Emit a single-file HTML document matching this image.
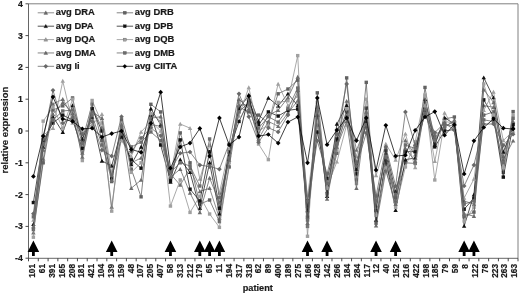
<!DOCTYPE html>
<html lang="en"><head><meta charset="utf-8"><title>relative expression by patient</title>
<style>html,body{margin:0;padding:0;background:#fff}body{width:520px;height:295px;overflow:hidden}</style></head>
<body>
<svg width="520" height="295" viewBox="0 0 520 295" style="display:block;filter:blur(0.35px)">
<rect width="520" height="295" fill="#fff"/>
<path d="M28.5 3.8H518.0V258.3" fill="none" stroke="#808080" stroke-width="1"/>
<g><polyline points="33.39,232.76 43.19,158.98 52.97,103.97 62.77,99.20 72.55,116.05 82.34,152.94 92.13,107.15 101.92,127.82 111.71,207.00 121.50,134.18 131.29,162.80 141.08,158.03 150.88,124.64 160.66,126.23 170.45,173.93 180.24,185.06 190.03,168.21 199.82,191.42 209.61,188.24 219.40,218.13 229.19,154.85 238.98,104.92 248.77,104.92 258.56,138.95 268.36,121.46 278.14,126.23 287.94,112.87 297.72,100.79 307.51,205.73 317.30,124.96 327.09,191.42 336.88,140.54 346.67,101.11 356.46,150.08 366.25,126.23 376.04,205.73 385.83,153.26 395.62,200.96 405.41,140.54 415.20,154.85 424.99,100.79 434.78,135.13 444.57,127.82 454.36,119.87 464.15,200.96 473.94,204.14 483.73,105.56 493.52,107.15 503.31,156.44 513.11,121.46" fill="none" stroke="#6a6a6a" stroke-width="0.75" stroke-linejoin="round"/>
<path d="M33.39 230.56L35.59 234.52L31.19 234.52Z" fill="#6e6e6e"/>
<path d="M43.19 156.78L45.39 160.74L40.98 160.74Z" fill="#6e6e6e"/>
<path d="M52.97 101.77L55.17 105.73L50.77 105.73Z" fill="#6e6e6e"/>
<path d="M62.77 97.00L64.97 100.96L60.56 100.96Z" fill="#6e6e6e"/>
<path d="M72.55 113.85L74.75 117.81L70.35 117.81Z" fill="#6e6e6e"/>
<path d="M82.34 150.74L84.55 154.70L80.14 154.70Z" fill="#6e6e6e"/>
<path d="M92.13 104.95L94.33 108.91L89.93 108.91Z" fill="#6e6e6e"/>
<path d="M101.92 125.62L104.12 129.58L99.72 129.58Z" fill="#6e6e6e"/>
<path d="M111.71 204.80L113.91 208.76L109.51 208.76Z" fill="#6e6e6e"/>
<path d="M121.50 131.98L123.70 135.94L119.30 135.94Z" fill="#6e6e6e"/>
<path d="M131.29 160.60L133.49 164.56L129.09 164.56Z" fill="#6e6e6e"/>
<path d="M141.08 155.83L143.28 159.79L138.88 159.79Z" fill="#6e6e6e"/>
<path d="M150.88 122.44L153.07 126.40L148.68 126.40Z" fill="#6e6e6e"/>
<path d="M160.66 124.03L162.86 127.99L158.47 127.99Z" fill="#6e6e6e"/>
<path d="M170.45 171.73L172.65 175.69L168.25 175.69Z" fill="#6e6e6e"/>
<path d="M180.24 182.86L182.44 186.82L178.04 186.82Z" fill="#6e6e6e"/>
<path d="M190.03 166.01L192.23 169.97L187.84 169.97Z" fill="#6e6e6e"/>
<path d="M199.82 189.22L202.02 193.18L197.62 193.18Z" fill="#6e6e6e"/>
<path d="M209.61 186.04L211.81 190.00L207.41 190.00Z" fill="#6e6e6e"/>
<path d="M219.40 215.93L221.60 219.89L217.20 219.89Z" fill="#6e6e6e"/>
<path d="M229.19 152.65L231.39 156.61L227.00 156.61Z" fill="#6e6e6e"/>
<path d="M238.98 102.72L241.18 106.68L236.78 106.68Z" fill="#6e6e6e"/>
<path d="M248.77 102.72L250.97 106.68L246.57 106.68Z" fill="#6e6e6e"/>
<path d="M258.56 136.75L260.76 140.71L256.36 140.71Z" fill="#6e6e6e"/>
<path d="M268.36 119.26L270.56 123.22L266.16 123.22Z" fill="#6e6e6e"/>
<path d="M278.14 124.03L280.34 127.99L275.94 127.99Z" fill="#6e6e6e"/>
<path d="M287.94 110.67L290.13 114.63L285.74 114.63Z" fill="#6e6e6e"/>
<path d="M297.72 98.59L299.92 102.55L295.52 102.55Z" fill="#6e6e6e"/>
<path d="M307.51 203.53L309.71 207.49L305.31 207.49Z" fill="#6e6e6e"/>
<path d="M317.30 122.76L319.50 126.72L315.10 126.72Z" fill="#6e6e6e"/>
<path d="M327.09 189.22L329.29 193.18L324.89 193.18Z" fill="#6e6e6e"/>
<path d="M336.88 138.34L339.08 142.30L334.69 142.30Z" fill="#6e6e6e"/>
<path d="M346.67 98.91L348.87 102.87L344.47 102.87Z" fill="#6e6e6e"/>
<path d="M356.46 147.88L358.66 151.84L354.26 151.84Z" fill="#6e6e6e"/>
<path d="M366.25 124.03L368.45 127.99L364.06 127.99Z" fill="#6e6e6e"/>
<path d="M376.04 203.53L378.24 207.49L373.84 207.49Z" fill="#6e6e6e"/>
<path d="M385.83 151.06L388.03 155.02L383.63 155.02Z" fill="#6e6e6e"/>
<path d="M395.62 198.76L397.82 202.72L393.42 202.72Z" fill="#6e6e6e"/>
<path d="M405.41 138.34L407.61 142.30L403.21 142.30Z" fill="#6e6e6e"/>
<path d="M415.20 152.65L417.40 156.61L413.00 156.61Z" fill="#6e6e6e"/>
<path d="M424.99 98.59L427.19 102.55L422.79 102.55Z" fill="#6e6e6e"/>
<path d="M434.78 132.93L436.98 136.89L432.58 136.89Z" fill="#6e6e6e"/>
<path d="M444.57 125.62L446.77 129.58L442.38 129.58Z" fill="#6e6e6e"/>
<path d="M454.36 117.67L456.56 121.63L452.16 121.63Z" fill="#6e6e6e"/>
<path d="M464.15 198.76L466.35 202.72L461.95 202.72Z" fill="#6e6e6e"/>
<path d="M473.94 201.94L476.14 205.90L471.74 205.90Z" fill="#6e6e6e"/>
<path d="M483.73 103.36L485.93 107.32L481.53 107.32Z" fill="#6e6e6e"/>
<path d="M493.52 104.95L495.72 108.91L491.32 108.91Z" fill="#6e6e6e"/>
<path d="M503.31 154.24L505.51 158.20L501.11 158.20Z" fill="#6e6e6e"/>
<path d="M513.11 119.26L515.31 123.22L510.91 123.22Z" fill="#6e6e6e"/>
</g>
<g><polyline points="33.39,229.58 43.19,162.80 52.97,110.01 62.77,105.88 72.55,97.93 82.34,140.54 92.13,103.97 101.92,140.54 111.71,181.56 121.50,119.87 131.29,169.16 141.08,196.83 150.88,104.29 160.66,111.92 170.45,178.70 180.24,132.91 190.03,162.80 199.82,204.14 209.61,200.01 219.40,221.63 229.19,166.93 238.98,107.15 248.77,111.92 258.56,115.10 268.36,123.05 278.14,93.79 287.94,89.02 297.72,80.12 307.51,226.40 317.30,92.84 327.09,193.96 336.88,153.26 346.67,77.89 356.46,179.97 366.25,82.35 376.04,223.22 385.83,162.80 395.62,197.78 405.41,162.80 415.20,163.44 424.99,87.43 434.78,143.72 444.57,118.92 454.36,117.01 464.15,216.86 473.94,212.09 483.73,115.10 493.52,111.92 503.31,172.34 513.11,111.60" fill="none" stroke="#5a5a5a" stroke-width="0.75" stroke-linejoin="round"/>
<rect x="31.69" y="227.88" width="3.40" height="3.40" fill="#626262"/>
<rect x="41.48" y="161.10" width="3.40" height="3.40" fill="#626262"/>
<rect x="51.27" y="108.31" width="3.40" height="3.40" fill="#626262"/>
<rect x="61.06" y="104.18" width="3.40" height="3.40" fill="#626262"/>
<rect x="70.85" y="96.23" width="3.40" height="3.40" fill="#626262"/>
<rect x="80.64" y="138.84" width="3.40" height="3.40" fill="#626262"/>
<rect x="90.43" y="102.27" width="3.40" height="3.40" fill="#626262"/>
<rect x="100.22" y="138.84" width="3.40" height="3.40" fill="#626262"/>
<rect x="110.01" y="179.86" width="3.40" height="3.40" fill="#626262"/>
<rect x="119.80" y="118.17" width="3.40" height="3.40" fill="#626262"/>
<rect x="129.59" y="167.46" width="3.40" height="3.40" fill="#626262"/>
<rect x="139.38" y="195.13" width="3.40" height="3.40" fill="#626262"/>
<rect x="149.18" y="102.59" width="3.40" height="3.40" fill="#626262"/>
<rect x="158.97" y="110.22" width="3.40" height="3.40" fill="#626262"/>
<rect x="168.75" y="177.00" width="3.40" height="3.40" fill="#626262"/>
<rect x="178.54" y="131.21" width="3.40" height="3.40" fill="#626262"/>
<rect x="188.34" y="161.10" width="3.40" height="3.40" fill="#626262"/>
<rect x="198.12" y="202.44" width="3.40" height="3.40" fill="#626262"/>
<rect x="207.91" y="198.31" width="3.40" height="3.40" fill="#626262"/>
<rect x="217.70" y="219.93" width="3.40" height="3.40" fill="#626262"/>
<rect x="227.50" y="165.23" width="3.40" height="3.40" fill="#626262"/>
<rect x="237.28" y="105.45" width="3.40" height="3.40" fill="#626262"/>
<rect x="247.07" y="110.22" width="3.40" height="3.40" fill="#626262"/>
<rect x="256.86" y="113.40" width="3.40" height="3.40" fill="#626262"/>
<rect x="266.66" y="121.35" width="3.40" height="3.40" fill="#626262"/>
<rect x="276.44" y="92.09" width="3.40" height="3.40" fill="#626262"/>
<rect x="286.24" y="87.32" width="3.40" height="3.40" fill="#626262"/>
<rect x="296.02" y="78.42" width="3.40" height="3.40" fill="#626262"/>
<rect x="305.81" y="224.70" width="3.40" height="3.40" fill="#626262"/>
<rect x="315.60" y="91.14" width="3.40" height="3.40" fill="#626262"/>
<rect x="325.39" y="192.26" width="3.40" height="3.40" fill="#626262"/>
<rect x="335.19" y="151.56" width="3.40" height="3.40" fill="#626262"/>
<rect x="344.97" y="76.19" width="3.40" height="3.40" fill="#626262"/>
<rect x="354.76" y="178.27" width="3.40" height="3.40" fill="#626262"/>
<rect x="364.56" y="80.65" width="3.40" height="3.40" fill="#626262"/>
<rect x="374.34" y="221.52" width="3.40" height="3.40" fill="#626262"/>
<rect x="384.13" y="161.10" width="3.40" height="3.40" fill="#626262"/>
<rect x="393.92" y="196.08" width="3.40" height="3.40" fill="#626262"/>
<rect x="403.71" y="161.10" width="3.40" height="3.40" fill="#626262"/>
<rect x="413.50" y="161.74" width="3.40" height="3.40" fill="#626262"/>
<rect x="423.29" y="85.73" width="3.40" height="3.40" fill="#626262"/>
<rect x="433.08" y="142.02" width="3.40" height="3.40" fill="#626262"/>
<rect x="442.88" y="117.22" width="3.40" height="3.40" fill="#626262"/>
<rect x="452.66" y="115.31" width="3.40" height="3.40" fill="#626262"/>
<rect x="462.45" y="215.16" width="3.40" height="3.40" fill="#626262"/>
<rect x="472.24" y="210.39" width="3.40" height="3.40" fill="#626262"/>
<rect x="482.03" y="113.40" width="3.40" height="3.40" fill="#626262"/>
<rect x="491.82" y="110.22" width="3.40" height="3.40" fill="#626262"/>
<rect x="501.61" y="170.64" width="3.40" height="3.40" fill="#626262"/>
<rect x="511.41" y="109.90" width="3.40" height="3.40" fill="#626262"/>
</g>
<g><polyline points="33.39,224.17 43.19,146.90 52.97,116.69 62.77,132.27 72.55,105.56 82.34,138.95 92.13,117.01 101.92,160.89 111.71,165.98 121.50,130.05 131.29,164.39 141.08,146.90 150.88,108.74 160.66,124.64 170.45,181.88 180.24,159.62 190.03,172.34 199.82,208.27 209.61,162.80 219.40,213.68 229.19,151.67 238.98,108.74 248.77,95.07 258.56,121.14 268.36,97.93 278.14,105.88 287.94,93.79 297.72,105.56 307.51,210.50 317.30,115.10 327.09,196.19 336.88,124.00 346.67,105.56 356.46,169.16 366.25,121.46 376.04,220.04 385.83,159.62 395.62,210.18 405.41,159.62 415.20,158.03 424.99,99.20 434.78,145.31 444.57,117.64 454.36,124.00 464.15,226.08 473.94,194.60 483.73,77.58 493.52,97.61 503.31,151.99 513.11,127.18" fill="none" stroke="#1a1a1a" stroke-width="0.75" stroke-linejoin="round"/>
<path d="M33.39 221.97L35.59 225.93L31.19 225.93Z" fill="#111111"/>
<path d="M43.19 144.70L45.39 148.66L40.98 148.66Z" fill="#111111"/>
<path d="M52.97 114.49L55.17 118.45L50.77 118.45Z" fill="#111111"/>
<path d="M62.77 130.07L64.97 134.03L60.56 134.03Z" fill="#111111"/>
<path d="M72.55 103.36L74.75 107.32L70.35 107.32Z" fill="#111111"/>
<path d="M82.34 136.75L84.55 140.71L80.14 140.71Z" fill="#111111"/>
<path d="M92.13 114.81L94.33 118.77L89.93 118.77Z" fill="#111111"/>
<path d="M101.92 158.69L104.12 162.65L99.72 162.65Z" fill="#111111"/>
<path d="M111.71 163.78L113.91 167.74L109.51 167.74Z" fill="#111111"/>
<path d="M121.50 127.85L123.70 131.81L119.30 131.81Z" fill="#111111"/>
<path d="M131.29 162.19L133.49 166.15L129.09 166.15Z" fill="#111111"/>
<path d="M141.08 144.70L143.28 148.66L138.88 148.66Z" fill="#111111"/>
<path d="M150.88 106.54L153.07 110.50L148.68 110.50Z" fill="#111111"/>
<path d="M160.66 122.44L162.86 126.40L158.47 126.40Z" fill="#111111"/>
<path d="M170.45 179.68L172.65 183.64L168.25 183.64Z" fill="#111111"/>
<path d="M180.24 157.42L182.44 161.38L178.04 161.38Z" fill="#111111"/>
<path d="M190.03 170.14L192.23 174.10L187.84 174.10Z" fill="#111111"/>
<path d="M199.82 206.07L202.02 210.03L197.62 210.03Z" fill="#111111"/>
<path d="M209.61 160.60L211.81 164.56L207.41 164.56Z" fill="#111111"/>
<path d="M219.40 211.48L221.60 215.44L217.20 215.44Z" fill="#111111"/>
<path d="M229.19 149.47L231.39 153.43L227.00 153.43Z" fill="#111111"/>
<path d="M238.98 106.54L241.18 110.50L236.78 110.50Z" fill="#111111"/>
<path d="M248.77 92.87L250.97 96.83L246.57 96.83Z" fill="#111111"/>
<path d="M258.56 118.94L260.76 122.90L256.36 122.90Z" fill="#111111"/>
<path d="M268.36 95.73L270.56 99.69L266.16 99.69Z" fill="#111111"/>
<path d="M278.14 103.68L280.34 107.64L275.94 107.64Z" fill="#111111"/>
<path d="M287.94 91.59L290.13 95.55L285.74 95.55Z" fill="#111111"/>
<path d="M297.72 103.36L299.92 107.32L295.52 107.32Z" fill="#111111"/>
<path d="M307.51 208.30L309.71 212.26L305.31 212.26Z" fill="#111111"/>
<path d="M317.30 112.90L319.50 116.86L315.10 116.86Z" fill="#111111"/>
<path d="M327.09 193.99L329.29 197.95L324.89 197.95Z" fill="#111111"/>
<path d="M336.88 121.80L339.08 125.76L334.69 125.76Z" fill="#111111"/>
<path d="M346.67 103.36L348.87 107.32L344.47 107.32Z" fill="#111111"/>
<path d="M356.46 166.96L358.66 170.92L354.26 170.92Z" fill="#111111"/>
<path d="M366.25 119.26L368.45 123.22L364.06 123.22Z" fill="#111111"/>
<path d="M376.04 217.84L378.24 221.80L373.84 221.80Z" fill="#111111"/>
<path d="M385.83 157.42L388.03 161.38L383.63 161.38Z" fill="#111111"/>
<path d="M395.62 207.98L397.82 211.94L393.42 211.94Z" fill="#111111"/>
<path d="M405.41 157.42L407.61 161.38L403.21 161.38Z" fill="#111111"/>
<path d="M415.20 155.83L417.40 159.79L413.00 159.79Z" fill="#111111"/>
<path d="M424.99 97.00L427.19 100.96L422.79 100.96Z" fill="#111111"/>
<path d="M434.78 143.11L436.98 147.07L432.58 147.07Z" fill="#111111"/>
<path d="M444.57 115.44L446.77 119.40L442.38 119.40Z" fill="#111111"/>
<path d="M454.36 121.80L456.56 125.76L452.16 125.76Z" fill="#111111"/>
<path d="M464.15 223.88L466.35 227.84L461.95 227.84Z" fill="#111111"/>
<path d="M473.94 192.40L476.14 196.36L471.74 196.36Z" fill="#111111"/>
<path d="M483.73 75.38L485.93 79.34L481.53 79.34Z" fill="#111111"/>
<path d="M493.52 95.41L495.72 99.37L491.32 99.37Z" fill="#111111"/>
<path d="M503.31 149.79L505.51 153.75L501.11 153.75Z" fill="#111111"/>
<path d="M513.11 124.98L515.31 128.94L510.91 128.94Z" fill="#111111"/>
</g>
<g><polyline points="33.39,202.55 43.19,140.54 52.97,123.05 62.77,115.10 72.55,119.87 82.34,148.49 92.13,108.74 101.92,131.00 111.71,178.06 121.50,137.36 131.29,159.62 141.08,168.21 150.88,115.10 160.66,144.99 170.45,180.93 180.24,139.90 190.03,189.19 199.82,200.96 209.61,151.67 219.40,208.27 229.19,150.08 238.98,121.46 248.77,100.79 258.56,124.64 268.36,111.92 278.14,116.05 287.94,110.33 297.72,109.06 307.51,217.18 317.30,131.95 327.09,178.70 336.88,138.95 346.67,111.92 356.46,173.93 366.25,108.10 376.04,210.50 385.83,150.08 395.62,192.06 405.41,151.67 415.20,151.67 424.99,110.33 434.78,146.90 444.57,131.00 454.36,129.41 464.15,209.23 473.94,198.10 483.73,99.84 493.52,116.69 503.31,177.11 513.11,124.64" fill="none" stroke="#1a1a1a" stroke-width="0.75" stroke-linejoin="round"/>
<rect x="31.69" y="200.85" width="3.40" height="3.40" fill="#111111"/>
<rect x="41.48" y="138.84" width="3.40" height="3.40" fill="#111111"/>
<rect x="51.27" y="121.35" width="3.40" height="3.40" fill="#111111"/>
<rect x="61.06" y="113.40" width="3.40" height="3.40" fill="#111111"/>
<rect x="70.85" y="118.17" width="3.40" height="3.40" fill="#111111"/>
<rect x="80.64" y="146.79" width="3.40" height="3.40" fill="#111111"/>
<rect x="90.43" y="107.04" width="3.40" height="3.40" fill="#111111"/>
<rect x="100.22" y="129.30" width="3.40" height="3.40" fill="#111111"/>
<rect x="110.01" y="176.36" width="3.40" height="3.40" fill="#111111"/>
<rect x="119.80" y="135.66" width="3.40" height="3.40" fill="#111111"/>
<rect x="129.59" y="157.92" width="3.40" height="3.40" fill="#111111"/>
<rect x="139.38" y="166.51" width="3.40" height="3.40" fill="#111111"/>
<rect x="149.18" y="113.40" width="3.40" height="3.40" fill="#111111"/>
<rect x="158.97" y="143.29" width="3.40" height="3.40" fill="#111111"/>
<rect x="168.75" y="179.23" width="3.40" height="3.40" fill="#111111"/>
<rect x="178.54" y="138.20" width="3.40" height="3.40" fill="#111111"/>
<rect x="188.34" y="187.49" width="3.40" height="3.40" fill="#111111"/>
<rect x="198.12" y="199.26" width="3.40" height="3.40" fill="#111111"/>
<rect x="207.91" y="149.97" width="3.40" height="3.40" fill="#111111"/>
<rect x="217.70" y="206.57" width="3.40" height="3.40" fill="#111111"/>
<rect x="227.50" y="148.38" width="3.40" height="3.40" fill="#111111"/>
<rect x="237.28" y="119.76" width="3.40" height="3.40" fill="#111111"/>
<rect x="247.07" y="99.09" width="3.40" height="3.40" fill="#111111"/>
<rect x="256.86" y="122.94" width="3.40" height="3.40" fill="#111111"/>
<rect x="266.66" y="110.22" width="3.40" height="3.40" fill="#111111"/>
<rect x="276.44" y="114.35" width="3.40" height="3.40" fill="#111111"/>
<rect x="286.24" y="108.63" width="3.40" height="3.40" fill="#111111"/>
<rect x="296.02" y="107.36" width="3.40" height="3.40" fill="#111111"/>
<rect x="305.81" y="215.48" width="3.40" height="3.40" fill="#111111"/>
<rect x="315.60" y="130.25" width="3.40" height="3.40" fill="#111111"/>
<rect x="325.39" y="177.00" width="3.40" height="3.40" fill="#111111"/>
<rect x="335.19" y="137.25" width="3.40" height="3.40" fill="#111111"/>
<rect x="344.97" y="110.22" width="3.40" height="3.40" fill="#111111"/>
<rect x="354.76" y="172.23" width="3.40" height="3.40" fill="#111111"/>
<rect x="364.56" y="106.40" width="3.40" height="3.40" fill="#111111"/>
<rect x="374.34" y="208.80" width="3.40" height="3.40" fill="#111111"/>
<rect x="384.13" y="148.38" width="3.40" height="3.40" fill="#111111"/>
<rect x="393.92" y="190.36" width="3.40" height="3.40" fill="#111111"/>
<rect x="403.71" y="149.97" width="3.40" height="3.40" fill="#111111"/>
<rect x="413.50" y="149.97" width="3.40" height="3.40" fill="#111111"/>
<rect x="423.29" y="108.63" width="3.40" height="3.40" fill="#111111"/>
<rect x="433.08" y="145.20" width="3.40" height="3.40" fill="#111111"/>
<rect x="442.88" y="129.30" width="3.40" height="3.40" fill="#111111"/>
<rect x="452.66" y="127.71" width="3.40" height="3.40" fill="#111111"/>
<rect x="462.45" y="207.53" width="3.40" height="3.40" fill="#111111"/>
<rect x="472.24" y="196.40" width="3.40" height="3.40" fill="#111111"/>
<rect x="482.03" y="98.14" width="3.40" height="3.40" fill="#111111"/>
<rect x="491.82" y="114.99" width="3.40" height="3.40" fill="#111111"/>
<rect x="501.61" y="175.41" width="3.40" height="3.40" fill="#111111"/>
<rect x="511.41" y="122.94" width="3.40" height="3.40" fill="#111111"/>
</g>
<g><polyline points="33.39,220.04 43.19,135.13 52.97,128.14 62.77,81.07 72.55,123.05 82.34,131.00 92.13,124.64 101.92,114.15 111.71,172.34 121.50,140.54 131.29,156.44 141.08,131.95 150.88,121.46 160.66,131.00 170.45,175.52 180.24,124.00 190.03,128.14 199.82,179.02 209.61,145.31 219.40,193.01 229.19,148.49 238.98,116.05 248.77,87.43 258.56,131.00 268.36,124.96 278.14,83.94 287.94,105.56 297.72,96.02 307.51,197.14 317.30,121.46 327.09,186.65 336.88,161.85 346.67,124.96 356.46,156.44 366.25,113.51 376.04,175.52 385.83,144.04 395.62,159.94 405.41,133.86 415.20,167.57 424.99,105.56 434.78,161.21 444.57,112.87 454.36,127.82 464.15,198.10 473.94,179.02 483.73,110.33 493.52,91.89 503.31,140.54 513.11,131.00" fill="none" stroke="#8c8c8c" stroke-width="0.75" stroke-linejoin="round"/>
<path d="M33.39 217.84L35.59 221.80L31.19 221.80Z" fill="#a0a0a0"/>
<path d="M43.19 132.93L45.39 136.89L40.98 136.89Z" fill="#a0a0a0"/>
<path d="M52.97 125.94L55.17 129.90L50.77 129.90Z" fill="#a0a0a0"/>
<path d="M62.77 78.87L64.97 82.83L60.56 82.83Z" fill="#a0a0a0"/>
<path d="M72.55 120.85L74.75 124.81L70.35 124.81Z" fill="#a0a0a0"/>
<path d="M82.34 128.80L84.55 132.76L80.14 132.76Z" fill="#a0a0a0"/>
<path d="M92.13 122.44L94.33 126.40L89.93 126.40Z" fill="#a0a0a0"/>
<path d="M101.92 111.95L104.12 115.91L99.72 115.91Z" fill="#a0a0a0"/>
<path d="M111.71 170.14L113.91 174.10L109.51 174.10Z" fill="#a0a0a0"/>
<path d="M121.50 138.34L123.70 142.30L119.30 142.30Z" fill="#a0a0a0"/>
<path d="M131.29 154.24L133.49 158.20L129.09 158.20Z" fill="#a0a0a0"/>
<path d="M141.08 129.75L143.28 133.71L138.88 133.71Z" fill="#a0a0a0"/>
<path d="M150.88 119.26L153.07 123.22L148.68 123.22Z" fill="#a0a0a0"/>
<path d="M160.66 128.80L162.86 132.76L158.47 132.76Z" fill="#a0a0a0"/>
<path d="M170.45 173.32L172.65 177.28L168.25 177.28Z" fill="#a0a0a0"/>
<path d="M180.24 121.80L182.44 125.76L178.04 125.76Z" fill="#a0a0a0"/>
<path d="M190.03 125.94L192.23 129.90L187.84 129.90Z" fill="#a0a0a0"/>
<path d="M199.82 176.82L202.02 180.78L197.62 180.78Z" fill="#a0a0a0"/>
<path d="M209.61 143.11L211.81 147.07L207.41 147.07Z" fill="#a0a0a0"/>
<path d="M219.40 190.81L221.60 194.77L217.20 194.77Z" fill="#a0a0a0"/>
<path d="M229.19 146.29L231.39 150.25L227.00 150.25Z" fill="#a0a0a0"/>
<path d="M238.98 113.85L241.18 117.81L236.78 117.81Z" fill="#a0a0a0"/>
<path d="M248.77 85.23L250.97 89.19L246.57 89.19Z" fill="#a0a0a0"/>
<path d="M258.56 128.80L260.76 132.76L256.36 132.76Z" fill="#a0a0a0"/>
<path d="M268.36 122.76L270.56 126.72L266.16 126.72Z" fill="#a0a0a0"/>
<path d="M278.14 81.74L280.34 85.70L275.94 85.70Z" fill="#a0a0a0"/>
<path d="M287.94 103.36L290.13 107.32L285.74 107.32Z" fill="#a0a0a0"/>
<path d="M297.72 93.82L299.92 97.78L295.52 97.78Z" fill="#a0a0a0"/>
<path d="M307.51 194.94L309.71 198.90L305.31 198.90Z" fill="#a0a0a0"/>
<path d="M317.30 119.26L319.50 123.22L315.10 123.22Z" fill="#a0a0a0"/>
<path d="M327.09 184.45L329.29 188.41L324.89 188.41Z" fill="#a0a0a0"/>
<path d="M336.88 159.65L339.08 163.61L334.69 163.61Z" fill="#a0a0a0"/>
<path d="M346.67 122.76L348.87 126.72L344.47 126.72Z" fill="#a0a0a0"/>
<path d="M356.46 154.24L358.66 158.20L354.26 158.20Z" fill="#a0a0a0"/>
<path d="M366.25 111.31L368.45 115.27L364.06 115.27Z" fill="#a0a0a0"/>
<path d="M376.04 173.32L378.24 177.28L373.84 177.28Z" fill="#a0a0a0"/>
<path d="M385.83 141.84L388.03 145.80L383.63 145.80Z" fill="#a0a0a0"/>
<path d="M395.62 157.74L397.82 161.70L393.42 161.70Z" fill="#a0a0a0"/>
<path d="M405.41 131.66L407.61 135.62L403.21 135.62Z" fill="#a0a0a0"/>
<path d="M415.20 165.37L417.40 169.33L413.00 169.33Z" fill="#a0a0a0"/>
<path d="M424.99 103.36L427.19 107.32L422.79 107.32Z" fill="#a0a0a0"/>
<path d="M434.78 159.01L436.98 162.97L432.58 162.97Z" fill="#a0a0a0"/>
<path d="M444.57 110.67L446.77 114.63L442.38 114.63Z" fill="#a0a0a0"/>
<path d="M454.36 125.62L456.56 129.58L452.16 129.58Z" fill="#a0a0a0"/>
<path d="M464.15 195.90L466.35 199.86L461.95 199.86Z" fill="#a0a0a0"/>
<path d="M473.94 176.82L476.14 180.78L471.74 180.78Z" fill="#a0a0a0"/>
<path d="M483.73 108.13L485.93 112.09L481.53 112.09Z" fill="#a0a0a0"/>
<path d="M493.52 89.69L495.72 93.65L491.32 93.65Z" fill="#a0a0a0"/>
<path d="M503.31 138.34L505.51 142.30L501.11 142.30Z" fill="#a0a0a0"/>
<path d="M513.11 128.80L515.31 132.76L510.91 132.76Z" fill="#a0a0a0"/>
</g>
<g><polyline points="33.39,237.21 43.19,121.14 52.97,107.15 62.77,128.14 72.55,99.20 82.34,160.57 92.13,100.47 101.92,123.05 111.71,211.14 121.50,123.05 131.29,172.34 141.08,162.80 150.88,113.51 160.66,121.46 170.45,206.05 180.24,179.97 190.03,212.41 199.82,196.19 209.61,214.00 219.40,227.35 229.19,162.80 238.98,102.38 248.77,99.20 258.56,144.04 268.36,159.62 278.14,102.38 287.94,100.79 297.72,55.63 307.51,236.26 317.30,102.38 327.09,188.24 336.88,150.08 346.67,108.74 356.46,183.47 366.25,99.20 376.04,215.27 385.83,168.21 395.62,207.32 405.41,166.93 415.20,141.81 424.99,95.07 434.78,179.97 444.57,121.46 454.36,123.05 464.15,220.99 473.94,207.32 483.73,83.94 493.52,115.10 503.31,167.57 513.11,115.10" fill="none" stroke="#8c8c8c" stroke-width="0.75" stroke-linejoin="round"/>
<rect x="31.69" y="235.51" width="3.40" height="3.40" fill="#a0a0a0"/>
<rect x="41.48" y="119.44" width="3.40" height="3.40" fill="#a0a0a0"/>
<rect x="51.27" y="105.45" width="3.40" height="3.40" fill="#a0a0a0"/>
<rect x="61.06" y="126.44" width="3.40" height="3.40" fill="#a0a0a0"/>
<rect x="70.85" y="97.50" width="3.40" height="3.40" fill="#a0a0a0"/>
<rect x="80.64" y="158.87" width="3.40" height="3.40" fill="#a0a0a0"/>
<rect x="90.43" y="98.77" width="3.40" height="3.40" fill="#a0a0a0"/>
<rect x="100.22" y="121.35" width="3.40" height="3.40" fill="#a0a0a0"/>
<rect x="110.01" y="209.44" width="3.40" height="3.40" fill="#a0a0a0"/>
<rect x="119.80" y="121.35" width="3.40" height="3.40" fill="#a0a0a0"/>
<rect x="129.59" y="170.64" width="3.40" height="3.40" fill="#a0a0a0"/>
<rect x="139.38" y="161.10" width="3.40" height="3.40" fill="#a0a0a0"/>
<rect x="149.18" y="111.81" width="3.40" height="3.40" fill="#a0a0a0"/>
<rect x="158.97" y="119.76" width="3.40" height="3.40" fill="#a0a0a0"/>
<rect x="168.75" y="204.35" width="3.40" height="3.40" fill="#a0a0a0"/>
<rect x="178.54" y="178.27" width="3.40" height="3.40" fill="#a0a0a0"/>
<rect x="188.34" y="210.71" width="3.40" height="3.40" fill="#a0a0a0"/>
<rect x="198.12" y="194.49" width="3.40" height="3.40" fill="#a0a0a0"/>
<rect x="207.91" y="212.30" width="3.40" height="3.40" fill="#a0a0a0"/>
<rect x="217.70" y="225.65" width="3.40" height="3.40" fill="#a0a0a0"/>
<rect x="227.50" y="161.10" width="3.40" height="3.40" fill="#a0a0a0"/>
<rect x="237.28" y="100.68" width="3.40" height="3.40" fill="#a0a0a0"/>
<rect x="247.07" y="97.50" width="3.40" height="3.40" fill="#a0a0a0"/>
<rect x="256.86" y="142.34" width="3.40" height="3.40" fill="#a0a0a0"/>
<rect x="266.66" y="157.92" width="3.40" height="3.40" fill="#a0a0a0"/>
<rect x="276.44" y="100.68" width="3.40" height="3.40" fill="#a0a0a0"/>
<rect x="286.24" y="99.09" width="3.40" height="3.40" fill="#a0a0a0"/>
<rect x="296.02" y="53.93" width="3.40" height="3.40" fill="#a0a0a0"/>
<rect x="305.81" y="234.56" width="3.40" height="3.40" fill="#a0a0a0"/>
<rect x="315.60" y="100.68" width="3.40" height="3.40" fill="#a0a0a0"/>
<rect x="325.39" y="186.54" width="3.40" height="3.40" fill="#a0a0a0"/>
<rect x="335.19" y="148.38" width="3.40" height="3.40" fill="#a0a0a0"/>
<rect x="344.97" y="107.04" width="3.40" height="3.40" fill="#a0a0a0"/>
<rect x="354.76" y="181.77" width="3.40" height="3.40" fill="#a0a0a0"/>
<rect x="364.56" y="97.50" width="3.40" height="3.40" fill="#a0a0a0"/>
<rect x="374.34" y="213.57" width="3.40" height="3.40" fill="#a0a0a0"/>
<rect x="384.13" y="166.51" width="3.40" height="3.40" fill="#a0a0a0"/>
<rect x="393.92" y="205.62" width="3.40" height="3.40" fill="#a0a0a0"/>
<rect x="403.71" y="165.23" width="3.40" height="3.40" fill="#a0a0a0"/>
<rect x="413.50" y="140.11" width="3.40" height="3.40" fill="#a0a0a0"/>
<rect x="423.29" y="93.37" width="3.40" height="3.40" fill="#a0a0a0"/>
<rect x="433.08" y="178.27" width="3.40" height="3.40" fill="#a0a0a0"/>
<rect x="442.88" y="119.76" width="3.40" height="3.40" fill="#a0a0a0"/>
<rect x="452.66" y="121.35" width="3.40" height="3.40" fill="#a0a0a0"/>
<rect x="462.45" y="219.29" width="3.40" height="3.40" fill="#a0a0a0"/>
<rect x="472.24" y="205.62" width="3.40" height="3.40" fill="#a0a0a0"/>
<rect x="482.03" y="82.24" width="3.40" height="3.40" fill="#a0a0a0"/>
<rect x="491.82" y="113.40" width="3.40" height="3.40" fill="#a0a0a0"/>
<rect x="501.61" y="165.87" width="3.40" height="3.40" fill="#a0a0a0"/>
<rect x="511.41" y="113.40" width="3.40" height="3.40" fill="#a0a0a0"/>
</g>
<g><polyline points="33.39,226.40 43.19,150.08 52.97,114.15 62.77,102.38 72.55,113.51 82.34,157.08 92.13,111.92 101.92,118.28 111.71,180.29 121.50,124.64 131.29,188.24 141.08,179.97 150.88,118.28 160.66,116.69 170.45,177.11 180.24,169.16 190.03,193.01 199.82,212.41 209.61,178.06 219.40,202.55 229.19,159.94 238.98,99.20 248.77,108.74 258.56,134.18 268.36,115.10 278.14,110.33 287.94,97.61 297.72,76.94 307.51,223.22 317.30,107.15 327.09,199.05 336.88,146.90 346.67,121.46 356.46,188.24 366.25,111.92 376.04,225.76 385.83,170.75 395.62,204.14 405.41,148.49 415.20,161.21 424.99,108.74 434.78,137.36 444.57,126.23 454.36,121.46 464.15,213.68 473.94,216.22 483.73,89.66 493.52,102.38 503.31,159.62 513.11,140.86" fill="none" stroke="#5e5e5e" stroke-width="0.75" stroke-linejoin="round"/>
<path d="M33.39 224.20L35.59 228.16L31.19 228.16Z" fill="#6c6c6c"/>
<path d="M43.19 147.88L45.39 151.84L40.98 151.84Z" fill="#6c6c6c"/>
<path d="M52.97 111.95L55.17 115.91L50.77 115.91Z" fill="#6c6c6c"/>
<path d="M62.77 100.18L64.97 104.14L60.56 104.14Z" fill="#6c6c6c"/>
<path d="M72.55 111.31L74.75 115.27L70.35 115.27Z" fill="#6c6c6c"/>
<path d="M82.34 154.88L84.55 158.84L80.14 158.84Z" fill="#6c6c6c"/>
<path d="M92.13 109.72L94.33 113.68L89.93 113.68Z" fill="#6c6c6c"/>
<path d="M101.92 116.08L104.12 120.04L99.72 120.04Z" fill="#6c6c6c"/>
<path d="M111.71 178.09L113.91 182.05L109.51 182.05Z" fill="#6c6c6c"/>
<path d="M121.50 122.44L123.70 126.40L119.30 126.40Z" fill="#6c6c6c"/>
<path d="M131.29 186.04L133.49 190.00L129.09 190.00Z" fill="#6c6c6c"/>
<path d="M141.08 177.77L143.28 181.73L138.88 181.73Z" fill="#6c6c6c"/>
<path d="M150.88 116.08L153.07 120.04L148.68 120.04Z" fill="#6c6c6c"/>
<path d="M160.66 114.49L162.86 118.45L158.47 118.45Z" fill="#6c6c6c"/>
<path d="M170.45 174.91L172.65 178.87L168.25 178.87Z" fill="#6c6c6c"/>
<path d="M180.24 166.96L182.44 170.92L178.04 170.92Z" fill="#6c6c6c"/>
<path d="M190.03 190.81L192.23 194.77L187.84 194.77Z" fill="#6c6c6c"/>
<path d="M199.82 210.21L202.02 214.17L197.62 214.17Z" fill="#6c6c6c"/>
<path d="M209.61 175.86L211.81 179.82L207.41 179.82Z" fill="#6c6c6c"/>
<path d="M219.40 200.35L221.60 204.31L217.20 204.31Z" fill="#6c6c6c"/>
<path d="M229.19 157.74L231.39 161.70L227.00 161.70Z" fill="#6c6c6c"/>
<path d="M238.98 97.00L241.18 100.96L236.78 100.96Z" fill="#6c6c6c"/>
<path d="M248.77 106.54L250.97 110.50L246.57 110.50Z" fill="#6c6c6c"/>
<path d="M258.56 131.98L260.76 135.94L256.36 135.94Z" fill="#6c6c6c"/>
<path d="M268.36 112.90L270.56 116.86L266.16 116.86Z" fill="#6c6c6c"/>
<path d="M278.14 108.13L280.34 112.09L275.94 112.09Z" fill="#6c6c6c"/>
<path d="M287.94 95.41L290.13 99.37L285.74 99.37Z" fill="#6c6c6c"/>
<path d="M297.72 74.74L299.92 78.70L295.52 78.70Z" fill="#6c6c6c"/>
<path d="M307.51 221.02L309.71 224.98L305.31 224.98Z" fill="#6c6c6c"/>
<path d="M317.30 104.95L319.50 108.91L315.10 108.91Z" fill="#6c6c6c"/>
<path d="M327.09 196.85L329.29 200.81L324.89 200.81Z" fill="#6c6c6c"/>
<path d="M336.88 144.70L339.08 148.66L334.69 148.66Z" fill="#6c6c6c"/>
<path d="M346.67 119.26L348.87 123.22L344.47 123.22Z" fill="#6c6c6c"/>
<path d="M356.46 186.04L358.66 190.00L354.26 190.00Z" fill="#6c6c6c"/>
<path d="M366.25 109.72L368.45 113.68L364.06 113.68Z" fill="#6c6c6c"/>
<path d="M376.04 223.56L378.24 227.52L373.84 227.52Z" fill="#6c6c6c"/>
<path d="M385.83 168.55L388.03 172.51L383.63 172.51Z" fill="#6c6c6c"/>
<path d="M395.62 201.94L397.82 205.90L393.42 205.90Z" fill="#6c6c6c"/>
<path d="M405.41 146.29L407.61 150.25L403.21 150.25Z" fill="#6c6c6c"/>
<path d="M415.20 159.01L417.40 162.97L413.00 162.97Z" fill="#6c6c6c"/>
<path d="M424.99 106.54L427.19 110.50L422.79 110.50Z" fill="#6c6c6c"/>
<path d="M434.78 135.16L436.98 139.12L432.58 139.12Z" fill="#6c6c6c"/>
<path d="M444.57 124.03L446.77 127.99L442.38 127.99Z" fill="#6c6c6c"/>
<path d="M454.36 119.26L456.56 123.22L452.16 123.22Z" fill="#6c6c6c"/>
<path d="M464.15 211.48L466.35 215.44L461.95 215.44Z" fill="#6c6c6c"/>
<path d="M473.94 214.02L476.14 217.98L471.74 217.98Z" fill="#6c6c6c"/>
<path d="M483.73 87.46L485.93 91.42L481.53 91.42Z" fill="#6c6c6c"/>
<path d="M493.52 100.18L495.72 104.14L491.32 104.14Z" fill="#6c6c6c"/>
<path d="M503.31 157.42L505.51 161.38L501.11 161.38Z" fill="#6c6c6c"/>
<path d="M513.11 138.66L515.31 142.62L510.91 142.62Z" fill="#6c6c6c"/>
</g>
<g><polyline points="33.39,216.86 43.19,144.04 52.97,119.87 62.77,110.97 72.55,110.01 82.34,143.72 92.13,115.10 101.92,144.99 111.71,175.52 121.50,127.82 131.29,146.90 141.08,142.13 150.88,131.95 160.66,140.54 170.45,172.34 180.24,162.80 190.03,165.98 199.82,186.01 209.61,138.95 219.40,197.78 229.19,158.03 238.98,111.92 248.77,102.38 258.56,128.14 268.36,116.69 278.14,122.10 287.94,108.74 297.72,88.07 307.51,220.04 317.30,110.97 327.09,183.47 336.88,143.72 346.67,116.05 356.46,162.16 366.25,124.64 376.04,200.96 385.83,157.08 395.62,194.60 405.41,144.99 415.20,148.49 424.99,113.51 434.78,140.54 444.57,124.64 454.36,126.23 464.15,204.14 473.94,200.96 483.73,119.87 493.52,121.46 503.31,162.80 513.11,118.28" fill="none" stroke="#5e5e5e" stroke-width="0.75" stroke-linejoin="round"/>
<rect x="31.69" y="215.16" width="3.40" height="3.40" fill="#6c6c6c"/>
<rect x="41.48" y="142.34" width="3.40" height="3.40" fill="#6c6c6c"/>
<rect x="51.27" y="118.17" width="3.40" height="3.40" fill="#6c6c6c"/>
<rect x="61.06" y="109.27" width="3.40" height="3.40" fill="#6c6c6c"/>
<rect x="70.85" y="108.31" width="3.40" height="3.40" fill="#6c6c6c"/>
<rect x="80.64" y="142.02" width="3.40" height="3.40" fill="#6c6c6c"/>
<rect x="90.43" y="113.40" width="3.40" height="3.40" fill="#6c6c6c"/>
<rect x="100.22" y="143.29" width="3.40" height="3.40" fill="#6c6c6c"/>
<rect x="110.01" y="173.82" width="3.40" height="3.40" fill="#6c6c6c"/>
<rect x="119.80" y="126.12" width="3.40" height="3.40" fill="#6c6c6c"/>
<rect x="129.59" y="145.20" width="3.40" height="3.40" fill="#6c6c6c"/>
<rect x="139.38" y="140.43" width="3.40" height="3.40" fill="#6c6c6c"/>
<rect x="149.18" y="130.25" width="3.40" height="3.40" fill="#6c6c6c"/>
<rect x="158.97" y="138.84" width="3.40" height="3.40" fill="#6c6c6c"/>
<rect x="168.75" y="170.64" width="3.40" height="3.40" fill="#6c6c6c"/>
<rect x="178.54" y="161.10" width="3.40" height="3.40" fill="#6c6c6c"/>
<rect x="188.34" y="164.28" width="3.40" height="3.40" fill="#6c6c6c"/>
<rect x="198.12" y="184.31" width="3.40" height="3.40" fill="#6c6c6c"/>
<rect x="207.91" y="137.25" width="3.40" height="3.40" fill="#6c6c6c"/>
<rect x="217.70" y="196.08" width="3.40" height="3.40" fill="#6c6c6c"/>
<rect x="227.50" y="156.33" width="3.40" height="3.40" fill="#6c6c6c"/>
<rect x="237.28" y="110.22" width="3.40" height="3.40" fill="#6c6c6c"/>
<rect x="247.07" y="100.68" width="3.40" height="3.40" fill="#6c6c6c"/>
<rect x="256.86" y="126.44" width="3.40" height="3.40" fill="#6c6c6c"/>
<rect x="266.66" y="114.99" width="3.40" height="3.40" fill="#6c6c6c"/>
<rect x="276.44" y="120.40" width="3.40" height="3.40" fill="#6c6c6c"/>
<rect x="286.24" y="107.04" width="3.40" height="3.40" fill="#6c6c6c"/>
<rect x="296.02" y="86.37" width="3.40" height="3.40" fill="#6c6c6c"/>
<rect x="305.81" y="218.34" width="3.40" height="3.40" fill="#6c6c6c"/>
<rect x="315.60" y="109.27" width="3.40" height="3.40" fill="#6c6c6c"/>
<rect x="325.39" y="181.77" width="3.40" height="3.40" fill="#6c6c6c"/>
<rect x="335.19" y="142.02" width="3.40" height="3.40" fill="#6c6c6c"/>
<rect x="344.97" y="114.35" width="3.40" height="3.40" fill="#6c6c6c"/>
<rect x="354.76" y="160.46" width="3.40" height="3.40" fill="#6c6c6c"/>
<rect x="364.56" y="122.94" width="3.40" height="3.40" fill="#6c6c6c"/>
<rect x="374.34" y="199.26" width="3.40" height="3.40" fill="#6c6c6c"/>
<rect x="384.13" y="155.38" width="3.40" height="3.40" fill="#6c6c6c"/>
<rect x="393.92" y="192.90" width="3.40" height="3.40" fill="#6c6c6c"/>
<rect x="403.71" y="143.29" width="3.40" height="3.40" fill="#6c6c6c"/>
<rect x="413.50" y="146.79" width="3.40" height="3.40" fill="#6c6c6c"/>
<rect x="423.29" y="111.81" width="3.40" height="3.40" fill="#6c6c6c"/>
<rect x="433.08" y="138.84" width="3.40" height="3.40" fill="#6c6c6c"/>
<rect x="442.88" y="122.94" width="3.40" height="3.40" fill="#6c6c6c"/>
<rect x="452.66" y="124.53" width="3.40" height="3.40" fill="#6c6c6c"/>
<rect x="462.45" y="202.44" width="3.40" height="3.40" fill="#6c6c6c"/>
<rect x="472.24" y="199.26" width="3.40" height="3.40" fill="#6c6c6c"/>
<rect x="482.03" y="118.17" width="3.40" height="3.40" fill="#6c6c6c"/>
<rect x="491.82" y="119.76" width="3.40" height="3.40" fill="#6c6c6c"/>
<rect x="501.61" y="161.10" width="3.40" height="3.40" fill="#6c6c6c"/>
<rect x="511.41" y="116.58" width="3.40" height="3.40" fill="#6c6c6c"/>
</g>
<g><polyline points="33.39,213.68 43.19,138.95 52.97,90.30 62.77,123.05 72.55,118.28 82.34,134.18 92.13,121.46 101.92,150.08 111.71,156.12 121.50,116.69 131.29,151.67 141.08,138.00 150.88,127.82 160.66,135.77 170.45,170.75 180.24,153.26 190.03,151.99 199.82,165.03 209.61,166.62 219.40,169.16 229.19,143.72 238.98,93.79 248.77,116.69 258.56,142.13 268.36,127.82 278.14,131.95 287.94,115.10 297.72,91.25 307.51,200.96 317.30,140.86 327.09,173.93 336.88,134.18 346.67,83.94 356.46,165.98 366.25,132.91 376.04,196.19 385.83,146.90 395.62,186.01 405.41,111.92 415.20,145.31 424.99,115.10 434.78,132.59 444.57,123.05 454.36,130.05 464.15,186.01 473.94,165.03 483.73,124.00 493.52,124.00 503.31,145.31 513.11,134.18" fill="none" stroke="#5e5e5e" stroke-width="0.75" stroke-linejoin="round"/>
<path d="M33.39 211.33L35.74 213.68L33.39 216.03L31.04 213.68Z" fill="#686868"/>
<path d="M43.19 136.60L45.54 138.95L43.19 141.30L40.84 138.95Z" fill="#686868"/>
<path d="M52.97 87.95L55.32 90.30L52.97 92.65L50.62 90.30Z" fill="#686868"/>
<path d="M62.77 120.70L65.11 123.05L62.77 125.40L60.41 123.05Z" fill="#686868"/>
<path d="M72.55 115.93L74.90 118.28L72.55 120.63L70.20 118.28Z" fill="#686868"/>
<path d="M82.34 131.83L84.69 134.18L82.34 136.53L80.00 134.18Z" fill="#686868"/>
<path d="M92.13 119.11L94.48 121.46L92.13 123.81L89.78 121.46Z" fill="#686868"/>
<path d="M101.92 147.73L104.27 150.08L101.92 152.43L99.58 150.08Z" fill="#686868"/>
<path d="M111.71 153.77L114.06 156.12L111.71 158.47L109.36 156.12Z" fill="#686868"/>
<path d="M121.50 114.34L123.85 116.69L121.50 119.04L119.16 116.69Z" fill="#686868"/>
<path d="M131.29 149.32L133.64 151.67L131.29 154.02L128.94 151.67Z" fill="#686868"/>
<path d="M141.08 135.65L143.43 138.00L141.08 140.35L138.73 138.00Z" fill="#686868"/>
<path d="M150.88 125.47L153.22 127.82L150.88 130.17L148.53 127.82Z" fill="#686868"/>
<path d="M160.66 133.42L163.01 135.77L160.66 138.12L158.31 135.77Z" fill="#686868"/>
<path d="M170.45 168.40L172.80 170.75L170.45 173.10L168.10 170.75Z" fill="#686868"/>
<path d="M180.24 150.91L182.59 153.26L180.24 155.61L177.89 153.26Z" fill="#686868"/>
<path d="M190.03 149.64L192.38 151.99L190.03 154.34L187.69 151.99Z" fill="#686868"/>
<path d="M199.82 162.68L202.17 165.03L199.82 167.38L197.47 165.03Z" fill="#686868"/>
<path d="M209.61 164.27L211.96 166.62L209.61 168.97L207.26 166.62Z" fill="#686868"/>
<path d="M219.40 166.81L221.75 169.16L219.40 171.51L217.05 169.16Z" fill="#686868"/>
<path d="M229.19 141.37L231.54 143.72L229.19 146.07L226.84 143.72Z" fill="#686868"/>
<path d="M238.98 91.44L241.33 93.79L238.98 96.14L236.63 93.79Z" fill="#686868"/>
<path d="M248.77 114.34L251.12 116.69L248.77 119.04L246.42 116.69Z" fill="#686868"/>
<path d="M258.56 139.78L260.91 142.13L258.56 144.48L256.21 142.13Z" fill="#686868"/>
<path d="M268.36 125.47L270.71 127.82L268.36 130.17L266.00 127.82Z" fill="#686868"/>
<path d="M278.14 129.60L280.50 131.95L278.14 134.30L275.79 131.95Z" fill="#686868"/>
<path d="M287.94 112.75L290.29 115.10L287.94 117.45L285.58 115.10Z" fill="#686868"/>
<path d="M297.72 88.90L300.07 91.25L297.72 93.60L295.37 91.25Z" fill="#686868"/>
<path d="M307.51 198.61L309.87 200.96L307.51 203.31L305.16 200.96Z" fill="#686868"/>
<path d="M317.30 138.51L319.65 140.86L317.30 143.21L314.95 140.86Z" fill="#686868"/>
<path d="M327.09 171.58L329.44 173.93L327.09 176.28L324.74 173.93Z" fill="#686868"/>
<path d="M336.88 131.83L339.24 134.18L336.88 136.53L334.53 134.18Z" fill="#686868"/>
<path d="M346.67 81.59L349.02 83.94L346.67 86.29L344.32 83.94Z" fill="#686868"/>
<path d="M356.46 163.63L358.81 165.98L356.46 168.33L354.11 165.98Z" fill="#686868"/>
<path d="M366.25 130.56L368.61 132.91L366.25 135.26L363.90 132.91Z" fill="#686868"/>
<path d="M376.04 193.84L378.39 196.19L376.04 198.54L373.69 196.19Z" fill="#686868"/>
<path d="M385.83 144.55L388.19 146.90L385.83 149.25L383.48 146.90Z" fill="#686868"/>
<path d="M395.62 183.66L397.97 186.01L395.62 188.36L393.27 186.01Z" fill="#686868"/>
<path d="M405.41 109.57L407.76 111.92L405.41 114.27L403.06 111.92Z" fill="#686868"/>
<path d="M415.20 142.96L417.56 145.31L415.20 147.66L412.85 145.31Z" fill="#686868"/>
<path d="M424.99 112.75L427.34 115.10L424.99 117.45L422.64 115.10Z" fill="#686868"/>
<path d="M434.78 130.24L437.13 132.59L434.78 134.94L432.43 132.59Z" fill="#686868"/>
<path d="M444.57 120.70L446.93 123.05L444.57 125.40L442.22 123.05Z" fill="#686868"/>
<path d="M454.36 127.70L456.71 130.05L454.36 132.40L452.01 130.05Z" fill="#686868"/>
<path d="M464.15 183.66L466.50 186.01L464.15 188.36L461.80 186.01Z" fill="#686868"/>
<path d="M473.94 162.68L476.29 165.03L473.94 167.38L471.59 165.03Z" fill="#686868"/>
<path d="M483.73 121.65L486.08 124.00L483.73 126.35L481.38 124.00Z" fill="#686868"/>
<path d="M493.52 121.65L495.88 124.00L493.52 126.35L491.17 124.00Z" fill="#686868"/>
<path d="M503.31 142.96L505.66 145.31L503.31 147.66L500.96 145.31Z" fill="#686868"/>
<path d="M513.11 131.83L515.46 134.18L513.11 136.53L510.75 134.18Z" fill="#686868"/>
</g>
<g><polyline points="33.39,176.47 43.19,136.09 52.97,96.97 62.77,118.92 72.55,121.46 82.34,128.77 92.13,128.14 101.92,137.04 111.71,133.54 121.50,131.00 131.29,149.44 141.08,152.31 150.88,123.37 160.66,92.20 170.45,168.21 180.24,146.90 190.03,143.08 199.82,128.46 209.61,156.12 219.40,117.96 229.19,144.99 238.98,137.04 248.77,96.02 258.56,136.09 268.36,134.50 278.14,143.08 287.94,122.10 297.72,117.01 307.51,162.80 317.30,97.93 327.09,144.67 336.88,130.05 346.67,117.96 356.46,140.54 366.25,117.96 376.04,170.11 385.83,125.28 395.62,156.12 405.41,155.17 415.20,130.36 424.99,117.01 434.78,111.60 444.57,135.13 454.36,124.64 464.15,173.93 473.94,140.86 483.73,127.50 493.52,118.92 503.31,128.14 513.11,129.09" fill="none" stroke="#000000" stroke-width="0.75" stroke-linejoin="round"/>
<path d="M33.39 174.12L35.74 176.47L33.39 178.82L31.04 176.47Z" fill="#000000"/>
<path d="M43.19 133.74L45.54 136.09L43.19 138.44L40.84 136.09Z" fill="#000000"/>
<path d="M52.97 94.62L55.32 96.97L52.97 99.32L50.62 96.97Z" fill="#000000"/>
<path d="M62.77 116.57L65.11 118.92L62.77 121.27L60.41 118.92Z" fill="#000000"/>
<path d="M72.55 119.11L74.90 121.46L72.55 123.81L70.20 121.46Z" fill="#000000"/>
<path d="M82.34 126.42L84.69 128.77L82.34 131.12L80.00 128.77Z" fill="#000000"/>
<path d="M92.13 125.79L94.48 128.14L92.13 130.49L89.78 128.14Z" fill="#000000"/>
<path d="M101.92 134.69L104.27 137.04L101.92 139.39L99.58 137.04Z" fill="#000000"/>
<path d="M111.71 131.19L114.06 133.54L111.71 135.89L109.36 133.54Z" fill="#000000"/>
<path d="M121.50 128.65L123.85 131.00L121.50 133.35L119.16 131.00Z" fill="#000000"/>
<path d="M131.29 147.09L133.64 149.44L131.29 151.79L128.94 149.44Z" fill="#000000"/>
<path d="M141.08 149.96L143.43 152.31L141.08 154.66L138.73 152.31Z" fill="#000000"/>
<path d="M150.88 121.02L153.22 123.37L150.88 125.72L148.53 123.37Z" fill="#000000"/>
<path d="M160.66 89.85L163.01 92.20L160.66 94.55L158.31 92.20Z" fill="#000000"/>
<path d="M170.45 165.86L172.80 168.21L170.45 170.56L168.10 168.21Z" fill="#000000"/>
<path d="M180.24 144.55L182.59 146.90L180.24 149.25L177.89 146.90Z" fill="#000000"/>
<path d="M190.03 140.73L192.38 143.08L190.03 145.43L187.69 143.08Z" fill="#000000"/>
<path d="M199.82 126.11L202.17 128.46L199.82 130.81L197.47 128.46Z" fill="#000000"/>
<path d="M209.61 153.77L211.96 156.12L209.61 158.47L207.26 156.12Z" fill="#000000"/>
<path d="M219.40 115.61L221.75 117.96L219.40 120.31L217.05 117.96Z" fill="#000000"/>
<path d="M229.19 142.64L231.54 144.99L229.19 147.34L226.84 144.99Z" fill="#000000"/>
<path d="M238.98 134.69L241.33 137.04L238.98 139.39L236.63 137.04Z" fill="#000000"/>
<path d="M248.77 93.67L251.12 96.02L248.77 98.37L246.42 96.02Z" fill="#000000"/>
<path d="M258.56 133.74L260.91 136.09L258.56 138.44L256.21 136.09Z" fill="#000000"/>
<path d="M268.36 132.15L270.71 134.50L268.36 136.85L266.00 134.50Z" fill="#000000"/>
<path d="M278.14 140.73L280.50 143.08L278.14 145.43L275.79 143.08Z" fill="#000000"/>
<path d="M287.94 119.75L290.29 122.10L287.94 124.45L285.58 122.10Z" fill="#000000"/>
<path d="M297.72 114.66L300.07 117.01L297.72 119.36L295.37 117.01Z" fill="#000000"/>
<path d="M307.51 160.45L309.87 162.80L307.51 165.15L305.16 162.80Z" fill="#000000"/>
<path d="M317.30 95.58L319.65 97.93L317.30 100.28L314.95 97.93Z" fill="#000000"/>
<path d="M327.09 142.32L329.44 144.67L327.09 147.02L324.74 144.67Z" fill="#000000"/>
<path d="M336.88 127.70L339.24 130.05L336.88 132.40L334.53 130.05Z" fill="#000000"/>
<path d="M346.67 115.61L349.02 117.96L346.67 120.31L344.32 117.96Z" fill="#000000"/>
<path d="M356.46 138.19L358.81 140.54L356.46 142.89L354.11 140.54Z" fill="#000000"/>
<path d="M366.25 115.61L368.61 117.96L366.25 120.31L363.90 117.96Z" fill="#000000"/>
<path d="M376.04 167.76L378.39 170.11L376.04 172.46L373.69 170.11Z" fill="#000000"/>
<path d="M385.83 122.93L388.19 125.28L385.83 127.63L383.48 125.28Z" fill="#000000"/>
<path d="M395.62 153.77L397.97 156.12L395.62 158.47L393.27 156.12Z" fill="#000000"/>
<path d="M405.41 152.82L407.76 155.17L405.41 157.52L403.06 155.17Z" fill="#000000"/>
<path d="M415.20 128.01L417.56 130.36L415.20 132.71L412.85 130.36Z" fill="#000000"/>
<path d="M424.99 114.66L427.34 117.01L424.99 119.36L422.64 117.01Z" fill="#000000"/>
<path d="M434.78 109.25L437.13 111.60L434.78 113.95L432.43 111.60Z" fill="#000000"/>
<path d="M444.57 132.78L446.93 135.13L444.57 137.48L442.22 135.13Z" fill="#000000"/>
<path d="M454.36 122.29L456.71 124.64L454.36 126.99L452.01 124.64Z" fill="#000000"/>
<path d="M464.15 171.58L466.50 173.93L464.15 176.28L461.80 173.93Z" fill="#000000"/>
<path d="M473.94 138.51L476.29 140.86L473.94 143.21L471.59 140.86Z" fill="#000000"/>
<path d="M483.73 125.15L486.08 127.50L483.73 129.85L481.38 127.50Z" fill="#000000"/>
<path d="M493.52 116.57L495.88 118.92L493.52 121.27L491.17 118.92Z" fill="#000000"/>
<path d="M503.31 125.79L505.66 128.14L503.31 130.49L500.96 128.14Z" fill="#000000"/>
<path d="M513.11 126.74L515.46 129.09L513.11 131.44L510.75 129.09Z" fill="#000000"/>
</g>
<path d="M28.5 3.8V258.3H518.0" fill="none" stroke="#4a4a4a" stroke-width="0.85"/>
<path d="M25.5 258.20H28.5M25.5 226.40H28.5M25.5 194.60H28.5M25.5 162.80H28.5M25.5 131.00H28.5M25.5 99.20H28.5M25.5 67.40H28.5M25.5 35.60H28.5M25.5 3.80H28.5M28.50 258.3V261.3M38.29 258.3V261.3M48.08 258.3V261.3M57.87 258.3V261.3M67.66 258.3V261.3M77.45 258.3V261.3M87.24 258.3V261.3M97.03 258.3V261.3M106.82 258.3V261.3M116.61 258.3V261.3M126.40 258.3V261.3M136.19 258.3V261.3M145.98 258.3V261.3M155.77 258.3V261.3M165.56 258.3V261.3M175.35 258.3V261.3M185.14 258.3V261.3M194.93 258.3V261.3M204.72 258.3V261.3M214.51 258.3V261.3M224.30 258.3V261.3M234.09 258.3V261.3M243.88 258.3V261.3M253.67 258.3V261.3M263.46 258.3V261.3M273.25 258.3V261.3M283.04 258.3V261.3M292.83 258.3V261.3M302.62 258.3V261.3M312.41 258.3V261.3M322.20 258.3V261.3M331.99 258.3V261.3M341.78 258.3V261.3M351.57 258.3V261.3M361.36 258.3V261.3M371.15 258.3V261.3M380.94 258.3V261.3M390.73 258.3V261.3M400.52 258.3V261.3M410.31 258.3V261.3M420.10 258.3V261.3M429.89 258.3V261.3M439.68 258.3V261.3M449.47 258.3V261.3M459.26 258.3V261.3M469.05 258.3V261.3M478.84 258.3V261.3M488.63 258.3V261.3M498.42 258.3V261.3M508.21 258.3V261.3M518.00 258.3V261.3" stroke="#333" stroke-width="0.9" fill="none"/>
<path d="M33.39 240.6L39.19 252.0H34.79V256.1H31.99V252.0H27.59Z" fill="#000"/>
<path d="M111.71 240.6L117.51 252.0H113.11V256.1H110.31V252.0H105.91Z" fill="#000"/>
<path d="M170.45 240.6L176.25 252.0H171.85V256.1H169.05V252.0H164.65Z" fill="#000"/>
<path d="M199.82 240.6L205.62 252.0H201.22V256.1H198.42V252.0H194.02Z" fill="#000"/>
<path d="M209.61 240.6L215.41 252.0H211.01V256.1H208.21V252.0H203.81Z" fill="#000"/>
<path d="M219.40 240.6L225.20 252.0H220.80V256.1H218.00V252.0H213.60Z" fill="#000"/>
<path d="M307.51 240.6L313.31 252.0H308.91V256.1H306.12V252.0H301.71Z" fill="#000"/>
<path d="M327.09 240.6L332.89 252.0H328.49V256.1H325.69V252.0H321.29Z" fill="#000"/>
<path d="M376.04 240.6L381.84 252.0H377.44V256.1H374.64V252.0H370.24Z" fill="#000"/>
<path d="M395.62 240.6L401.42 252.0H397.02V256.1H394.22V252.0H389.82Z" fill="#000"/>
<path d="M464.15 240.6L469.95 252.0H465.55V256.1H462.75V252.0H458.35Z" fill="#000"/>
<path d="M473.94 240.6L479.74 252.0H475.34V256.1H472.54V252.0H468.14Z" fill="#000"/>
<g font-family="'Liberation Sans', Arial, sans-serif" font-weight="bold" font-size="9.2" fill="#1a1a1a" stroke="#1a1a1a" stroke-width="0.2">
<text x="22.8" y="261.20" text-anchor="end" font-size="8.7">-4</text>
<text x="22.8" y="229.40" text-anchor="end" font-size="8.7">-3</text>
<text x="22.8" y="197.60" text-anchor="end" font-size="8.7">-2</text>
<text x="22.8" y="165.80" text-anchor="end" font-size="8.7">-1</text>
<text x="22.8" y="134.00" text-anchor="end" font-size="8.7">0</text>
<text x="22.8" y="102.20" text-anchor="end" font-size="8.7">1</text>
<text x="22.8" y="70.40" text-anchor="end" font-size="8.7">2</text>
<text x="22.8" y="38.60" text-anchor="end" font-size="8.7">3</text>
<text x="22.8" y="6.80" text-anchor="end" font-size="8.7">4</text>
<text transform="translate(35.25 264.0) rotate(-90)" text-anchor="end" font-size="8.3">101</text>
<text transform="translate(45.09 264.0) rotate(-90)" text-anchor="end" font-size="8.3">61</text>
<text transform="translate(54.92 264.0) rotate(-90)" text-anchor="end" font-size="8.3">391</text>
<text transform="translate(64.75 264.0) rotate(-90)" text-anchor="end" font-size="8.3">165</text>
<text transform="translate(74.59 264.0) rotate(-90)" text-anchor="end" font-size="8.3">208</text>
<text transform="translate(84.42 264.0) rotate(-90)" text-anchor="end" font-size="8.3">181</text>
<text transform="translate(94.26 264.0) rotate(-90)" text-anchor="end" font-size="8.3">421</text>
<text transform="translate(104.09 264.0) rotate(-90)" text-anchor="end" font-size="8.3">104</text>
<text transform="translate(113.93 264.0) rotate(-90)" text-anchor="end" font-size="8.3">139</text>
<text transform="translate(123.77 264.0) rotate(-90)" text-anchor="end" font-size="8.3">159</text>
<text transform="translate(133.60 264.0) rotate(-90)" text-anchor="end" font-size="8.3">48</text>
<text transform="translate(143.44 264.0) rotate(-90)" text-anchor="end" font-size="8.3">107</text>
<text transform="translate(153.27 264.0) rotate(-90)" text-anchor="end" font-size="8.3">205</text>
<text transform="translate(163.11 264.0) rotate(-90)" text-anchor="end" font-size="8.3">407</text>
<text transform="translate(172.94 264.0) rotate(-90)" text-anchor="end" font-size="8.3">58</text>
<text transform="translate(182.77 264.0) rotate(-90)" text-anchor="end" font-size="8.3">313</text>
<text transform="translate(192.61 264.0) rotate(-90)" text-anchor="end" font-size="8.3">212</text>
<text transform="translate(202.44 264.0) rotate(-90)" text-anchor="end" font-size="8.3">179</text>
<text transform="translate(212.28 264.0) rotate(-90)" text-anchor="end" font-size="8.3">65</text>
<text transform="translate(222.12 264.0) rotate(-90)" text-anchor="end" font-size="8.3">11</text>
<text transform="translate(231.95 264.0) rotate(-90)" text-anchor="end" font-size="8.3">194</text>
<text transform="translate(241.79 264.0) rotate(-90)" text-anchor="end" font-size="8.3">317</text>
<text transform="translate(251.62 264.0) rotate(-90)" text-anchor="end" font-size="8.3">318</text>
<text transform="translate(261.45 264.0) rotate(-90)" text-anchor="end" font-size="8.3">62</text>
<text transform="translate(271.29 264.0) rotate(-90)" text-anchor="end" font-size="8.3">89</text>
<text transform="translate(281.12 264.0) rotate(-90)" text-anchor="end" font-size="8.3">400</text>
<text transform="translate(290.96 264.0) rotate(-90)" text-anchor="end" font-size="8.3">189</text>
<text transform="translate(300.80 264.0) rotate(-90)" text-anchor="end" font-size="8.3">275</text>
<text transform="translate(310.63 264.0) rotate(-90)" text-anchor="end" font-size="8.3">166</text>
<text transform="translate(320.47 264.0) rotate(-90)" text-anchor="end" font-size="8.3">428</text>
<text transform="translate(330.30 264.0) rotate(-90)" text-anchor="end" font-size="8.3">142</text>
<text transform="translate(340.14 264.0) rotate(-90)" text-anchor="end" font-size="8.3">266</text>
<text transform="translate(349.97 264.0) rotate(-90)" text-anchor="end" font-size="8.3">184</text>
<text transform="translate(359.81 264.0) rotate(-90)" text-anchor="end" font-size="8.3">284</text>
<text transform="translate(369.64 264.0) rotate(-90)" text-anchor="end" font-size="8.3">117</text>
<text transform="translate(379.48 264.0) rotate(-90)" text-anchor="end" font-size="8.3">12</text>
<text transform="translate(389.31 264.0) rotate(-90)" text-anchor="end" font-size="8.3">40</text>
<text transform="translate(399.15 264.0) rotate(-90)" text-anchor="end" font-size="8.3">152</text>
<text transform="translate(408.98 264.0) rotate(-90)" text-anchor="end" font-size="8.3">216</text>
<text transform="translate(418.82 264.0) rotate(-90)" text-anchor="end" font-size="8.3">422</text>
<text transform="translate(428.65 264.0) rotate(-90)" text-anchor="end" font-size="8.3">198</text>
<text transform="translate(438.49 264.0) rotate(-90)" text-anchor="end" font-size="8.3">185</text>
<text transform="translate(448.32 264.0) rotate(-90)" text-anchor="end" font-size="8.3">79</text>
<text transform="translate(458.16 264.0) rotate(-90)" text-anchor="end" font-size="8.3">59</text>
<text transform="translate(467.99 264.0) rotate(-90)" text-anchor="end" font-size="8.3">8</text>
<text transform="translate(477.83 264.0) rotate(-90)" text-anchor="end" font-size="8.3">122</text>
<text transform="translate(487.66 264.0) rotate(-90)" text-anchor="end" font-size="8.3">78</text>
<text transform="translate(497.50 264.0) rotate(-90)" text-anchor="end" font-size="8.3">223</text>
<text transform="translate(507.33 264.0) rotate(-90)" text-anchor="end" font-size="8.3">263</text>
<text transform="translate(517.17 264.0) rotate(-90)" text-anchor="end" font-size="8.3">163</text>
<text x="257.8" y="291.2" text-anchor="middle" font-size="9.2">patient</text>
<text transform="translate(8.3 130) rotate(-90)" text-anchor="middle" font-size="9.6">relative expression</text>
<path d="M37.7 12.8H54.1" stroke="#6a6a6a" stroke-width="0.75"/>
<path d="M45.80 10.82L47.78 14.38L43.82 14.38Z" fill="#6e6e6e"/>
<text x="55.7" y="15.45" font-size="9.4">avg DRA</text>
<path d="M116.69999999999999 12.8H133.1" stroke="#5a5a5a" stroke-width="0.75"/>
<rect x="123.27" y="11.27" width="3.06" height="3.06" fill="#626262"/>
<text x="134.7" y="15.45" font-size="9.4">avg DRB</text>
<path d="M37.7 26.2H54.1" stroke="#1a1a1a" stroke-width="0.75"/>
<path d="M45.80 24.22L47.78 27.78L43.82 27.78Z" fill="#111111"/>
<text x="55.7" y="28.95" font-size="9.4">avg DPA</text>
<path d="M116.69999999999999 26.2H133.1" stroke="#1a1a1a" stroke-width="0.75"/>
<rect x="123.27" y="24.67" width="3.06" height="3.06" fill="#111111"/>
<text x="134.7" y="28.95" font-size="9.4">avg DPB</text>
<path d="M37.7 39.6H54.1" stroke="#8c8c8c" stroke-width="0.75"/>
<path d="M45.80 37.62L47.78 41.18L43.82 41.18Z" fill="#a0a0a0"/>
<text x="55.7" y="42.45" font-size="9.4">avg DQA</text>
<path d="M116.69999999999999 39.6H133.1" stroke="#8c8c8c" stroke-width="0.75"/>
<rect x="123.27" y="38.07" width="3.06" height="3.06" fill="#a0a0a0"/>
<text x="134.7" y="42.45" font-size="9.4">avg DQB</text>
<path d="M37.7 52.95H54.1" stroke="#5e5e5e" stroke-width="0.75"/>
<path d="M45.80 50.97L47.78 54.53L43.82 54.53Z" fill="#6c6c6c"/>
<text x="55.7" y="55.95" font-size="9.4">avg DMA</text>
<path d="M116.69999999999999 52.95H133.1" stroke="#5e5e5e" stroke-width="0.75"/>
<rect x="123.27" y="51.42" width="3.06" height="3.06" fill="#6c6c6c"/>
<text x="134.7" y="55.95" font-size="9.4">avg DMB</text>
<path d="M37.7 66.3H54.1" stroke="#5e5e5e" stroke-width="0.75"/>
<path d="M45.80 64.19L47.92 66.30L45.80 68.41L43.69 66.30Z" fill="#686868"/>
<text x="55.7" y="69.45" font-size="9.4">avg Ii</text>
<path d="M116.69999999999999 66.3H133.1" stroke="#000000" stroke-width="0.75"/>
<path d="M124.80 64.19L126.91 66.30L124.80 68.41L122.69 66.30Z" fill="#000000"/>
<text x="134.7" y="69.45" font-size="9.4">avg CIITA</text>
</g>
</svg>
</body></html>
